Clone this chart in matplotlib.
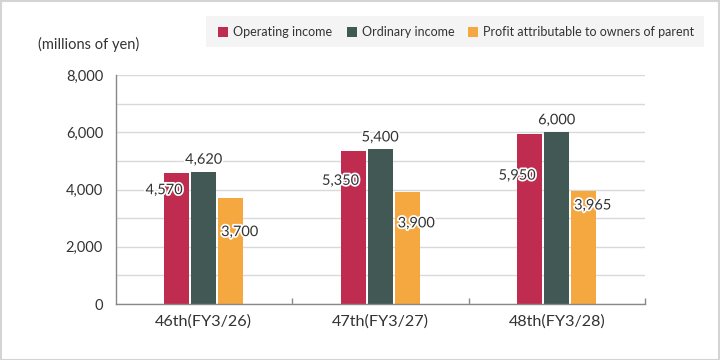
import matplotlib
matplotlib.use("Agg")
import matplotlib.pyplot as plt
from matplotlib.patches import Rectangle
import matplotlib.patheffects as pe
import numpy as np

categories = ["46th(FY3/26)", "47th(FY3/27)", "48th(FY3/28)"]
series_names = ["Operating income", "Ordinary income", "Profit attributable to owners of parent"]
operating_income = [4570, 5350, 5950]
ordinary_income = [4620, 5400, 6000]
profit_parent = [3700, 3900, 3965]
y_ticks = [0, 2000, 4000, 6000, 8000]
y_label = "(millions of yen)"

colors = ["#c02c50", "#415855", "#f5a840"]
text_color = "#333333"
FONT = "Lato"
plt.rcParams["font.family"] = [FONT, "DejaVu Sans"]

W, H = 720, 360
fig = plt.figure(figsize=(W / 100, H / 100), dpi=100)
fig.patch.set_facecolor("white")
# figure border
fig.patches.append(Rectangle((0.5 / W, 0.5 / H), (W - 1.5) / W, (H - 1.5) / H,
                             transform=fig.transFigure, fill=False,
                             edgecolor="#d4d4d4", linewidth=1.5))

ax_l, ax_r, ax_t, ax_b = 115.5, 645, 75, 304
ax = fig.add_axes([ax_l / W, (H - ax_b) / H, (ax_r - ax_l) / W, (ax_b - ax_t) / H])

x = np.arange(len(categories))
bw = 0.142
step = 0.153
all_series = [operating_income, ordinary_income, profit_parent]
for i, (vals, c) in enumerate(zip(all_series, colors)):
    ax.bar(x + (i - 1) * step, vals, width=bw, color=c, zorder=3)

ax.set_xlim(-0.5, len(categories) - 0.5)
ax.set_ylim(0, 8000)
ax.set_yticks(y_ticks)
ax.set_yticklabels([f"{v:,}" for v in y_ticks], color=text_color, fontsize=10.5)
ax.set_yticks(np.arange(1000, 8001, 1000), minor=True)
ax.yaxis.grid(True, which="both", color="#d9d9d9", linewidth=1, zorder=0)
ax.tick_params(axis="y", which="both", length=0, pad=9)
ax.set_xticks(x)
ax.set_xticklabels(categories, color=text_color, fontsize=11.6)
ax.tick_params(axis="x", which="major", length=0, pad=7.5)
ax.set_xticks(np.arange(0.5, len(categories) - 0.4, 1.0), minor=True)
ax.tick_params(axis="x", which="minor", direction="in", length=4, color="#888888", width=1)
for s in ["top", "right"]:
    ax.spines[s].set_visible(False)
for s in ["left", "bottom"]:
    ax.spines[s].set_color("#888888")
    ax.spines[s].set_linewidth(1)
    ax.spines[s].set_zorder(4)

outline = [pe.withStroke(linewidth=2.5, foreground="white")]
lab_fs = 10.5
# Operating income labels: centered at left edge of bar, some px below top
op_drop = [17, 30, 42]
for xi, v, d in zip(x, operating_income, op_drop):
    ax.annotate(f"{v:,}", (xi - step - bw / 2, v), xytext=(0, -d), textcoords="offset pixels",
                ha="center", va="center", fontsize=lab_fs, color=text_color,
                path_effects=outline, zorder=5)
for xi, v in zip(x, ordinary_income):
    ax.annotate(f"{v:,}", (xi, v), xytext=(0, 12), textcoords="offset pixels",
                ha="center", va="center", fontsize=lab_fs, color=text_color,
                path_effects=outline, zorder=5)
pr_drop = [34, 31, 15]
for xi, v, d in zip(x, profit_parent, pr_drop):
    ax.annotate(f"{v:,}", (xi + step, v), xytext=(9, -d), textcoords="offset pixels",
                ha="center", va="center", fontsize=lab_fs, color=text_color,
                path_effects=outline, zorder=5)

fig.text(38 / W, 1 - 44 / H, y_label, ha="left", va="center", fontsize=10.5, color=text_color)

# legend box
fig.patches.append(Rectangle((206 / W, 1 - 47 / H), (704 - 206) / W, 31 / H,
                             transform=fig.transFigure, facecolor="#f4f4f4",
                             edgecolor="none", zorder=0))
leg_x = [218, 347, 468]
for lx, name, c in zip(leg_x, series_names, colors):
    fig.patches.append(Rectangle((lx / W, 1 - 37 / H), 10 / W, 10 / H,
                                 transform=fig.transFigure, facecolor=c, edgecolor="none"))
    fig.text((lx + 15) / W, 1 - 32 / H, name, ha="left", va="center",
             fontsize=9, color=text_color)

fig.savefig("out.png", dpi=100)
